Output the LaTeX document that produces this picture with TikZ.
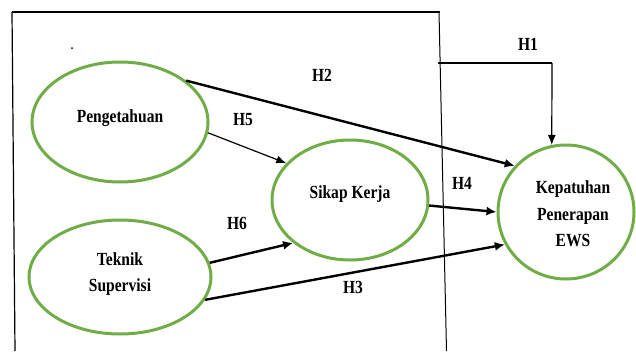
\documentclass[tikz,border=0pt]{standalone}
\usepackage{fontspec}
\setmainfont{Liberation Serif}[FakeStretch=0.84]
\usetikzlibrary{shapes.geometric,arrows.meta}
\definecolor{ogreen}{RGB}{112,173,71}
\begin{document}
\begin{tikzpicture}[x=1pt,y=-1pt,
  var/.style={ellipse,draw=ogreen,line width=3pt,inner sep=0pt},
  lbl/.style={font=\bfseries\fontsize{18.5}{26.5}\selectfont,align=center,inner sep=0pt},
  hyp/.style={font=\bfseries\fontsize{18.5}{22}\selectfont,inner sep=0pt},
  strongarrow/.style={line width=2.4pt,-{Latex[length=10pt,width=9pt]}},
  lightarrow/.style={line width=1.2pt,-{Latex[length=10pt,width=8pt]}},
  frameline/.style={line width=1.2pt}]
\useasboundingbox (0,0) rectangle (636,351);
% frame
\coordinate (ftl) at (12,12);
\coordinate (ftr) at (440,12);
\coordinate (fbl) at (15,351);
\coordinate (frt) at (439,12);
\coordinate (frb) at (446.5,351);
\draw[line width=1.7pt] (ftl) -- (ftr);
\draw[frameline] (ftl) -- (fbl);
\draw[line width=1pt] (frt) -- (frb);
\fill (72,48) circle (1pt);
% variables
\node[var,minimum width=176pt,minimum height=120pt] (peng) at (120,122) {};
\node[var,minimum width=156pt,minimum height=120pt] (sikap) at (350,200) {};
\node[var,minimum width=182pt,minimum height=114pt] (tek) at (120,277) {};
\node[var,minimum width=136pt,minimum height=134pt] (kep) at (566,212) {};
\node[lbl] (pengt) at (120,118) {Pengetahuan};
\node[lbl] (sikapt) at (350,194) {Sikap Kerja};
\node[lbl] (tekt) at (120,274) {Teknik\\Supervisi};
\node[lbl] (kept) at (573,214) {Kepatuhan\\Penerapan\\EWS};
% connectors
\draw[strongarrow] (peng.32) -- (kep.138);
\draw[lightarrow] (peng.-7) -- (sikap.150);
\draw[strongarrow] (tek.9) -- (sikap.217);
\draw[strongarrow] (sikap.-4) -- (kep.180);
\draw[strongarrow] (tek.-15) -- (kep.208);
\coordinate (h1a) at (438,63);
\coordinate (h1b) at (552,63);
\draw[line width=1.3pt] (h1a) -- (h1b);
\draw[lightarrow] (h1b) -- (kep.102);
% labels
\node[hyp] (lh1) at (528,44) {H1};
\node[hyp] (lh2) at (322,75) {H2};
\node[hyp] (lh3) at (353,287) {H3};
\node[hyp] (lh4) at (462,183) {H4};
\node[hyp] (lh5) at (243,120) {H5};
\node[hyp] (lh6) at (237,223) {H6};
\end{tikzpicture}
\end{document}
